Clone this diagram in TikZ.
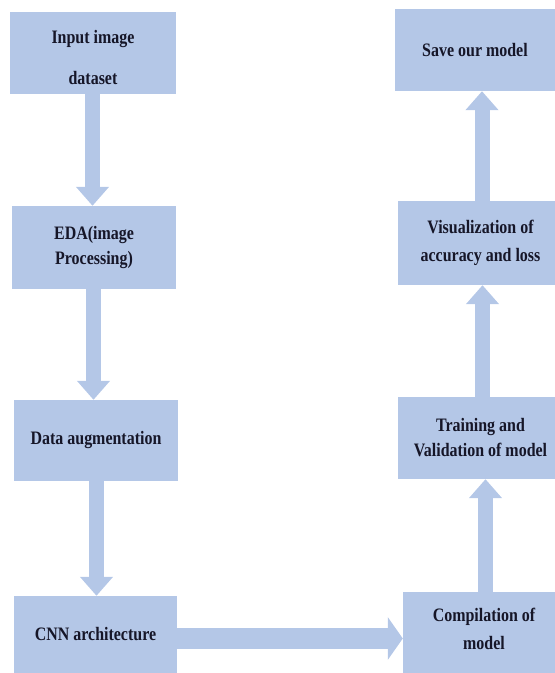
\documentclass[tikz,border=0pt]{standalone}
\usepackage{fontspec}
\usetikzlibrary{arrows.meta}
\newfontfamily\lblfont[FakeStretch=0.84]{Liberation Serif}
\definecolor{boxblue}{RGB}{180,199,231}
\definecolor{txtdark}{RGB}{22,22,40}
\tikzset{
  box/.style={rectangle, fill=boxblue, draw=none, inner sep=0pt, align=center,
    text=txtdark, font=\lblfont\bfseries\fontsize{19}{25}\selectfont},
  wide/.style={font=\lblfont\bfseries\fontsize{19}{#1}\selectfont},
  varrow/.style={draw=boxblue, line width=15pt, -{Triangle[width=32pt,length=19pt]}},
  harrow/.style={draw=boxblue, line width=21pt, -{Triangle[width=42pt,length=15pt]}}
}
\begin{document}
\begin{tikzpicture}[x=1pt,y=1pt]
\useasboundingbox (0,0) rectangle (555,673);
% left column
\node[box, wide=41pt, minimum width=166pt, minimum height=82pt] (inp) at (93,620)
  {\rule{0pt}{22pt}Input image\\dataset};
\node[box, minimum width=164pt, minimum height=83pt] (eda) at (94,425.5)
  {EDA(image\\Processing)};
\node[box, minimum width=164pt, minimum height=81pt] (aug) at (96,232.5)
  {Data augmentation};
\node[box, minimum width=163pt, minimum height=77pt] (cnn) at (95.5,38.5)
  {CNN architecture};
% right column (boxes run past the right edge)
\node[box, minimum width=160pt, minimum height=82pt] (save) at (475,623)
  {Save our model};
\node[box, wide=28pt, minimum width=165pt, minimum height=84pt] (vis) at (480.5,430)
  {Visualization of\\accuracy and loss};
\node[box, minimum width=165pt, minimum height=82pt] (train) at (480.5,235)
  {Training and\\Validation of model};
\node[box, wide=28pt, minimum width=162pt, minimum height=81pt] (comp) at (484,40.5)
  {Compilation of\\model\rule[-8pt]{0pt}{1pt}};
% connectors
\draw[varrow] ([xshift=-0.5pt]inp.south) -- ([xshift=-0.5pt]inp.south |- eda.north);
\draw[varrow] ([xshift=-0.5pt]eda.south) -- ([xshift=-0.5pt]eda.south |- aug.north);
\draw[varrow] ([xshift=0.5pt]aug.south) -- ([xshift=0.5pt]aug.south |- cnn.north);
\draw[harrow] ([yshift=-4pt]cnn.east) -- ([yshift=-4pt]cnn.east -| comp.west);
\draw[varrow] ([xshift=1.5pt]comp.north) -- ([xshift=1.5pt]comp.north |- train.south);
\draw[varrow] ([xshift=2pt]train.north) -- ([xshift=2pt]train.north |- vis.south);
\draw[varrow] ([xshift=1.5pt]vis.north) -- ([xshift=1.5pt]vis.north |- save.south);
\end{tikzpicture}
\end{document}
